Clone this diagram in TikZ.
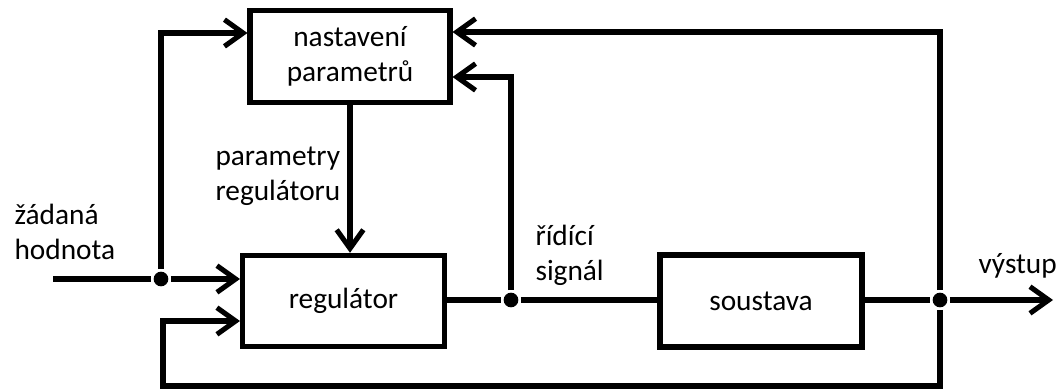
\documentclass[tikz,border=0pt]{standalone}
\usepackage{fontspec}
\setmainfont{Carlito}
\usetikzlibrary{arrows.meta}
\begin{document}
\begin{tikzpicture}[x=0.75pt,y=-0.75pt,
  line width=3.8pt,
  >={Straight Barb[length=14pt,width=20pt]},
  txt/.style={font=\fontsize{22}{26}\selectfont},
  blk/.style={txt,draw,minimum width=151.5pt,minimum height=68.5pt,inner sep=0pt,align=center},
  lbl/.style={txt,anchor=base west,align=left,inner sep=0pt},
  dot/.style={circle,fill,inner sep=0pt,minimum size=11pt}]
\useasboundingbox (0,0) rectangle (1062,392);
% blocks
\node[blk,minimum width=150pt] (nast) at (350,56.5) {nastavení\\parametrů};
\node[blk] (reg) at (343.5,301) {regulátor};
\node[blk,minimum height=69pt] (sous) at (761,301) {soustava};
% junctions and corners
\coordinate (in) at (53,279);
\node[dot] (j1) at (161,279) {};
\coordinate (tl) at (161,33);
\node[dot] (j3) at (511,300) {};
\coordinate (tm) at (511,77);
\node[dot] (j2) at (940,300) {};
\coordinate (tr) at (940,32);
\coordinate (br) at (940,386);
\coordinate (bl) at (163,386);
\coordinate (ml) at (163,321);
\coordinate (out) at (1053,300);
% connectors
\draw (in) -- (j1);
\draw[->] (j1) -- (reg.west |- j1);
\draw[->] (j1) -- (tl) -- (nast.west |- tl);
\draw[->] (nast.south) -- (nast.south |- reg.north);
\draw (reg.east |- j3) -- (j3) -- (sous.west |- j3);
\draw[->] (j3) -- (tm) -- (nast.east |- tm);
\draw (sous.east |- j2) -- (j2);
\draw[->] (j2) -- (out);
\draw[->] (j2) -- (tr) -- (nast.east |- tr);
\draw[->] (j2) -- (br) -- (bl) -- (ml) -- (reg.west |- ml);
% labels (anchor = baseline of the last line)
\node[lbl] (lpar) at (213,200) {parametry\\regulátoru};
\node[lbl] (lzad) at (12,259) {žádaná\\hodnota};
\node[lbl] (lrid) at (533,280) {řídící\\signál};
\node[lbl] (lvys) at (976,273) {výstup};
\end{tikzpicture}
\end{document}
